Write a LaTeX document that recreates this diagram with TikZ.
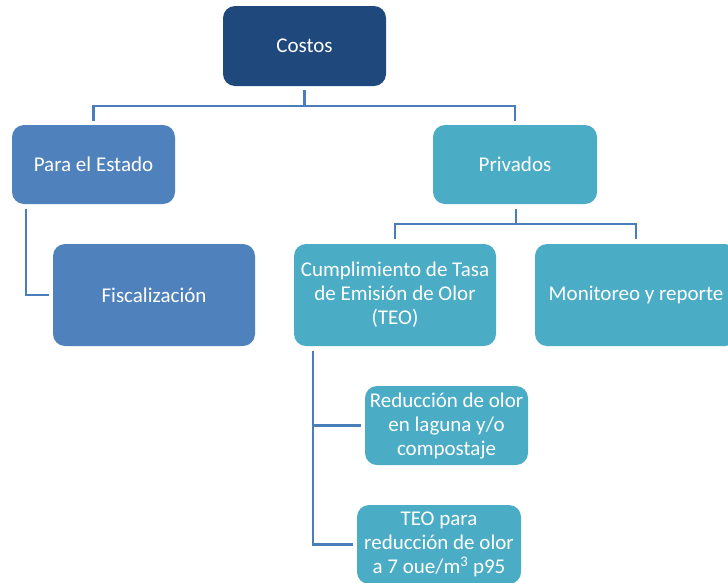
\documentclass[tikz,border=0pt]{standalone}
\usepackage{fontspec}
\setmainfont{Carlito}
\definecolor{navy}{HTML}{1F497D}
\definecolor{midblue}{HTML}{4F81BD}
\definecolor{teal}{HTML}{4BACC6}
\definecolor{linkc}{HTML}{4A7EBB}
\begin{document}
\begin{tikzpicture}[x=1pt,y=-1pt,
  box/.style={rectangle, rounded corners=12pt, draw=none, text=white, align=center,
    font=\fontsize{21}{24}\selectfont, inner sep=0pt},
  link/.style={draw=linkc, line width=2.2pt}]
\useasboundingbox (0,0) rectangle (728,582);
\begin{scope}
\clip (0,0) rectangle (728,582);
\node[box, fill=navy, minimum width=163pt, minimum height=80pt] (costos) at (304.5,46) {Costos};
\node[box, fill=midblue, minimum width=163pt, minimum height=79pt] (estado) at (93.5,164.5) {Para el Estado};
\node[box, fill=teal, minimum width=164pt, minimum height=79pt] (priv) at (515,164.5) {Privados};
\node[box, fill=midblue, minimum width=202pt, minimum height=102pt] (fisc) at (154,295) {Fiscalización};
\node[box, fill=teal, minimum width=202pt, minimum height=102pt] (teo) at (395,295) {Cumplimiento de Tasa\\de Emisión de Olor\\(TEO)};
\node[box, fill=teal, minimum width=202pt, minimum height=102pt] (monit) at (636,295) {Monitoreo y reporte};
\node[box, fill=teal, minimum width=163pt, minimum height=79pt] (red) at (446.5,425.5) {Reducción de olor\\en laguna y/o\\compostaje};
\node[box, fill=teal, minimum width=164pt, minimum height=79pt] (teored) at (439,544.5) {TEO para\\reducción de olor\\a 7 oue/m\textsuperscript{3} p95};

\coordinate (c1) at ([yshift=-20pt]costos.south);
\draw[link] ([yshift=-4pt]costos.south) -- (c1) -| ([yshift=4pt]estado.north);
\draw[link] (c1) -| ([yshift=4pt]priv.north);

\coordinate (c2) at ([xshift=1pt,yshift=-20pt]priv.south);
\draw[link] ([xshift=1pt,yshift=-5pt]priv.south) -- (c2) -| ([yshift=5pt]teo.north);
\draw[link] (c2) -| ([yshift=5pt]monit.north);

\draw[link] ([xshift=14pt,yshift=-5pt]estado.south west) |- ([xshift=-4pt]fisc.west);
\coordinate (c3) at ([xshift=19pt,yshift=-5pt]teo.south west);
\draw[link] (c3) |- ([xshift=-4pt]red.west);
\draw[link] (c3) |- ([xshift=-4pt]teored.west);
\end{scope}
\end{tikzpicture}
\end{document}
